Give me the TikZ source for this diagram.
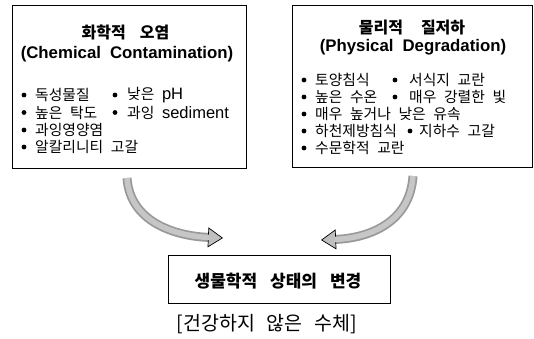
\documentclass[tikz,border=0pt]{standalone}
\usepackage{fontspec}
\setmainfont[WordSpace=2.3]{Noto Sans CJK KR}
\newfontfamily\lat{Liberation Sans}
\usetikzlibrary{arrows.meta}
\begin{document}
\begin{tikzpicture}[x=1pt,y=-1pt,
  box/.style={draw=black,line width=0.8pt},
  ttl/.style={font=\fontsize{16}{18}\selectfont\bfseries,inner sep=0pt},
  sub/.style={font=\fontsize{16.8}{18}\selectfont\lat\bfseries,inner sep=0pt},
  item/.style={font=\fontsize{14.8}{16}\selectfont,anchor=west,inner sep=0pt},
  dot/.style={circle,fill=black,inner sep=0pt,minimum size=4.8pt},
  arrowout/.style={draw=gray!80,line width=9pt,
    -{Triangle[width=20pt,length=15pt,fill=gray!50,color=black,line width=0.7pt]}},
  arrowin/.style={draw=gray!45,line width=5.5pt,shorten >=14pt},
]
\useasboundingbox (0,0) rectangle (534,339);
% boxes
\draw[box] (12,5) rectangle (246,168);
\draw[box] (292,5) rectangle (532,167);
\node[box,minimum width=222pt,minimum height=48pt,inner sep=0pt] (bio) at (279,279) {};
% left box text
\node[ttl] (lt) at (125.5,32) {화학적\hspace{14pt}오염};
\node[sub] (ls) at (127,54) {(Chemical\hspace{9pt}Contamination)};
\node[dot] (ld1) at (24,95) {};    \node[item] (l1) at (35,95) {독성물질};
\node[dot] (ld2) at (115,95) {};   \node[item] (l2) at (127,95) {낮은 {\lat\fontsize{16.5}{16}\selectfont pH}};
\node[dot] (ld3) at (24,112.5) {}; \node[item] (l3) at (35,112.5) {높은 탁도};
\node[dot] (ld4) at (115,112.5) {};\node[item] (l4) at (127,112.5) {과잉 {\lat\fontsize{16.5}{16}\selectfont sediment}};
\node[dot] (ld5) at (24,130) {};   \node[item] (l5) at (35,130) {과잉영양염};
\node[dot] (ld6) at (24,147) {};   \node[item] (l6) at (35,147) {알칼리니티 고갈};
% right box text
\node[ttl] (rt) at (412,27.5) {물리적\hspace{18pt}질저하};
\node[sub] (rs) at (413,47.5) {(Physical\hspace{9pt}Degradation)};
\node[dot] (rd1) at (304,80) {};  \node[item] (r1) at (315,80) {토양침식};
\node[dot] (rd2) at (395,80) {};  \node[item] (r2) at (409,80) {서식지 교란};
\node[dot] (rd3) at (304,97) {};  \node[item] (r3) at (315,97) {높은 수온};
\node[dot] (rd4) at (395,97) {};  \node[item] (r4) at (409,97) {매우 강렬한 빛};
\node[dot] (rd5) at (304,114) {}; \node[item] (r5) at (315,114) {매우 높거나 낮은 유속};
\node[dot] (rd6) at (304,131) {}; \node[item] (r6) at (315,131) {하천제방침식};
\node[dot] (rd7) at (410,131) {}; \node[item] (r7) at (419,131) {지하수 고갈};
\node[dot] (rd8) at (304,148) {}; \node[item] (r8) at (315,148) {수문학적 교란};
% bottom
\node[ttl,font=\fontsize{17}{19}\selectfont\bfseries] (bt) at (278,281) {생물학적\hspace{13pt}상태의\hspace{13pt}변경};
\node[font=\fontsize{19.5}{21}\selectfont,inner sep=0pt] (cap) at (267,324) {[건강하지\hspace{12pt}않은\hspace{12pt}수체]};
% arrows
\coordinate (a1s) at (127,178);
\coordinate (a1e) at (223,238);
\coordinate (a2s) at (413,176);
\coordinate (a2e) at (321,240);
\draw[arrowout] (a1s) .. controls (130,222) and (175,236) .. (a1e);
\draw[arrowin] (a1s) .. controls (130,222) and (175,236) .. (a1e);
\draw[arrowout] (a2s) .. controls (410,222) and (370,238) .. (a2e);
\draw[arrowin] (a2s) .. controls (410,222) and (370,238) .. (a2e);
\end{tikzpicture}
\end{document}
